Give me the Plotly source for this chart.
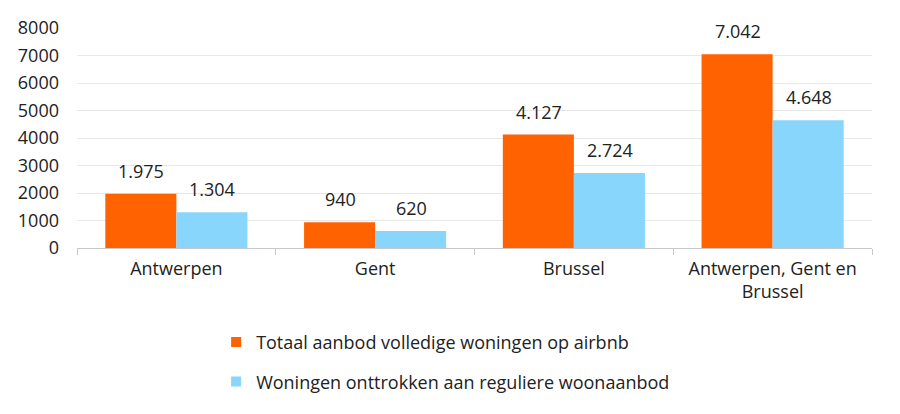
import plotly.graph_objects as go

categories = ["Antwerpen", "Gent", "Brussel", "Antwerpen, Gent en<br>Brussel"]
series_names = ["Totaal aanbod volledige woningen op airbnb",
                "Woningen onttrokken aan reguliere woonaanbod"]
totaal = [1975, 940, 4127, 7042]
onttrokken = [1304, 620, 2724, 4648]
y_ticks = [0, 1000, 2000, 3000, 4000, 5000, 6000, 7000, 8000]

colors = ["#FF6200", "#89D6FD"]
FONT = "Open Sans"

def fmt(v):
    return f"{v:,}".replace(",", ".")

fig = go.Figure()
for i, (name, vals) in enumerate(zip(series_names, [totaal, onttrokken])):
    fig.add_trace(go.Bar(
        x=categories, y=vals, name=name, marker_color=colors[i],
        marker_line_width=0, showlegend=False,
    ))
# legend entries with small square swatches
for i, name in enumerate(series_names):
    fig.add_trace(go.Scatter(
        x=[None], y=[None], mode="markers", name=name, legendgroup=f"g{i}",
        marker=dict(symbol="square", size=10, color=colors[i]),
    ))

annotations = []
for i, vals in enumerate([totaal, onttrokken]):
    shift = -35 if i == 0 else 36
    for c, v in zip(categories, vals):
        annotations.append(dict(
            x=c, y=v, text=fmt(v), showarrow=False, xshift=shift,
            yanchor="bottom", yshift=9, font=dict(size=18, color="#222", family=FONT),
        ))

fig.update_layout(
    width=900, height=414,
    margin=dict(l=77, r=28, t=28, b=166),
    plot_bgcolor="white", paper_bgcolor="white",
    barmode="group", bargap=0.285, bargroupgap=0,
    font=dict(family=FONT, size=18, color="#222"),
    annotations=annotations,
    legend=dict(
        orientation="v", x=0.175, xanchor="left", y=-0.345, yanchor="top",
        font=dict(size=18, color="#222", family=FONT),
        tracegroupgap=13, itemwidth=30,
    ),
    showlegend=True,
)
fig.update_xaxes(
    showline=True, linecolor="#c8c8c8", linewidth=1,
    ticks="outside", tickson="boundaries", ticklen=6, tickcolor="#c8c8c8",
    tickfont=dict(size=18, color="#222"), showgrid=False, ticklabelstandoff=4,
)
fig.update_yaxes(
    range=[0, 8000], tickvals=y_ticks, ticktext=[str(t) for t in y_ticks],
    showgrid=True, gridcolor="#e8e8e8", gridwidth=1, zeroline=False,
    showline=False, tickfont=dict(size=18, color="#222"), ticklabelstandoff=17,
)

fig.write_html("out.html")
